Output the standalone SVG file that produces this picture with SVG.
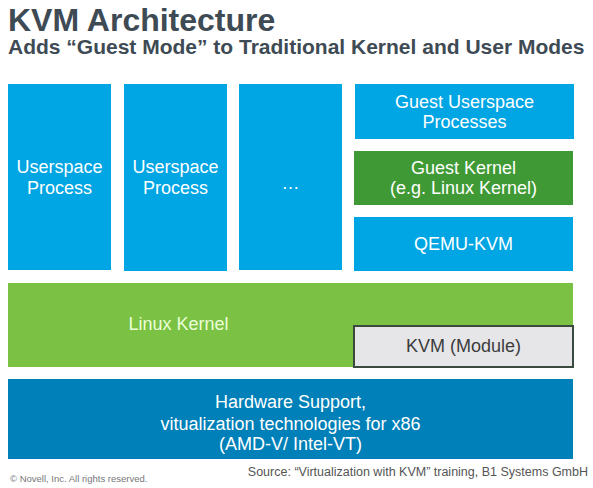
<svg xmlns="http://www.w3.org/2000/svg" width="593" height="488" viewBox="0 0 593 488">
<style>
text{font-family:"Liberation Sans",Arial,sans-serif}
.t{font-size:18px;fill:#ffffff;text-anchor:middle}
.blue{fill:#00a5e3}
.title{font-size:32px;font-weight:bold;fill:#3e4a54}
.sub{font-size:21px;font-weight:bold;fill:#3e4a54}
</style>
<rect width="593" height="488" fill="#ffffff"/>
<text class="title" x="8" y="31">KVM Architecture</text>
<text class="sub" x="8" y="54">Adds “Guest Mode” to Traditional Kernel and User Modes</text>
<g id="userspace1">
<rect class="blue" x="8" y="84" width="103" height="186"/>
<text class="t" x="59.5" y="173">Userspace</text>
<text class="t" x="59.5" y="194">Process</text>
</g>
<g id="userspace2">
<rect class="blue" x="124" y="84" width="103" height="187"/>
<text class="t" x="175.5" y="173">Userspace</text>
<text class="t" x="175.5" y="194">Process</text>
</g>
<g id="more">
<rect class="blue" x="239" y="84" width="103" height="186"/>
<text class="t" x="290.5" y="189">…</text>
</g>
<g id="guest-userspace">
<rect class="blue" x="355" y="84" width="219" height="55"/>
<text class="t" x="464.5" y="108">Guest Userspace</text>
<text class="t" x="464.5" y="128">Processes</text>
</g>
<g id="guest-kernel">
<rect x="354" y="151" width="219" height="54" fill="#3f9a36"/>
<text class="t" x="463.5" y="174">Guest Kernel</text>
<text class="t" x="463.5" y="194">(e.g. Linux Kernel)</text>
</g>
<g id="qemu-kvm">
<rect class="blue" x="354" y="217" width="219" height="54"/>
<text class="t" x="463.5" y="250">QEMU-KVM</text>
</g>
<g id="linux-kernel">
<rect x="8" y="283" width="565" height="84" fill="#7bc143"/>
<text class="t" x="178.5" y="330" style="fill:#eaffd8">Linux Kernel</text>
</g>
<g id="kvm-module">
<rect x="354" y="326" width="219" height="41" fill="#e6e6e8" stroke="#3b4a3e" stroke-width="2"/>
<text class="t" x="463.5" y="352" style="fill:#3c3c3c">KVM (Module)</text>
</g>
<g id="hardware">
<rect x="8" y="379" width="565" height="80" fill="#0080b8"/>
<text class="t" x="290.5" y="408">Hardware Support,</text>
<text class="t" x="290.5" y="430">vitualization technologies for x86</text>
<text class="t" x="290.5" y="450">(AMD-V/ Intel-VT)</text>
</g>
<g id="connectors"></g>
<text x="588" y="476" text-anchor="end" style="font-size:12.5px;fill:#555555">Source: “Virtualization with KVM” training, B1 Systems GmbH</text>
<text x="10" y="482" style="font-size:9.5px;fill:#777777">©  Novell, Inc.  All rights reserved.</text>
</svg>
